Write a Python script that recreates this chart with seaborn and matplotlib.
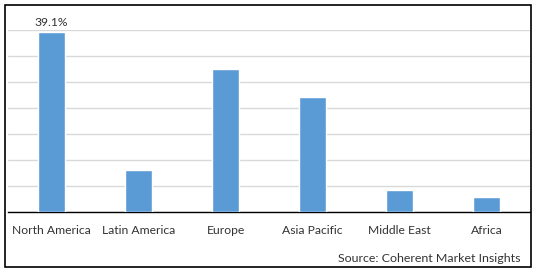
import matplotlib
matplotlib.use("Agg")
import matplotlib.pyplot as plt
import seaborn as sns
import pandas as pd
import numpy as np
from matplotlib.patches import Rectangle

regions = ["North America", "Latin America", "Europe", "Asia Pacific", "Middle East", "Africa"]
shares = [39.1, 9.1, 31.1, 25.0, 4.8, 3.3]
label_text = "39.1%"
source_text = "Source: Coherent Market Insights"

df = pd.DataFrame({"region": regions, "share": shares})

sns.set_theme(style="white")
plt.rcParams["font.family"] = ["Lato", "DejaVu Sans"]

W, H = 538, 272
fig = plt.figure(figsize=(W / 100, H / 100), dpi=100)
ax = fig.add_axes([8 / W, (H - 212) / H, (530 - 8) / W, (212 - 30) / H])

sns.barplot(data=df, x="region", y="share", color="#5B9BD5", width=0.32,
            saturation=1, ax=ax, zorder=3)

step = 5.65
ax.set_ylim(0, step * 7)
ax.set_yticks(np.arange(0, step * 7 + 0.01, step))
ax.set_xlim(-0.5, len(regions) - 0.5)
ax.yaxis.grid(True, color="#D9D9D9", linewidth=1)
ax.set_axisbelow(True)
ax.set_yticklabels([])
ax.tick_params(axis="both", length=0)
ax.tick_params(axis="x", labelsize=8.7, colors="#333333", pad=9)
ax.set_xlabel("")
ax.set_ylabel("")
for s in ["top", "left", "right"]:
    ax.spines[s].set_visible(False)
ax.spines["bottom"].set_color("#000000")
ax.spines["bottom"].set_linewidth(1)

ax.text(0, shares[0] + 0.9, label_text, ha="center", va="bottom",
        fontsize=8.7, color="#333333", clip_on=False)

fig.text(521 / W, (H - 258) / H, source_text, ha="right", va="center",
         fontsize=8.9, color="#333333")

fig.patches.append(Rectangle((4.5 / W, (H - 266.5) / H), (530.5 - 4.5) / W, (266.5 - 4.5) / H,
                             transform=fig.transFigure, fill=False,
                             edgecolor="black", linewidth=1.2))

fig.savefig("out.png", dpi=100)
